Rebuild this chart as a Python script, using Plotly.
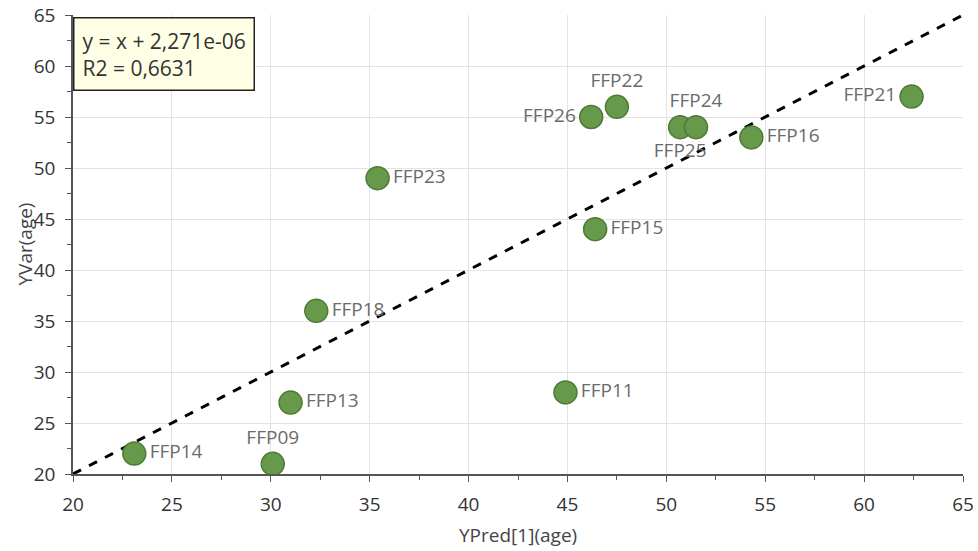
import plotly.graph_objects as go

names = ["FFP14", "FFP09", "FFP13", "FFP18", "FFP23", "FFP11", "FFP15",
         "FFP26", "FFP22", "FFP25", "FFP24", "FFP16", "FFP21"]
ypred = [23.1, 30.1, 31.0, 32.3, 35.4, 44.9, 46.4, 46.2, 47.5, 50.7, 51.5, 54.3, 62.4]
yvar = [22, 21, 27, 36, 49, 28, 44, 55, 56, 54, 54, 53, 57]
label_pos = ["middle right", "top center", "middle right", "middle right", "middle right",
             "middle right", "middle right", "middle left", "top center", "bottom center",
             "top center", "middle right", "middle left"]
fit_x = [20, 65]
fit_y = [20, 65]
x_ticks = [20, 25, 30, 35, 40, 45, 50, 55, 60, 65]
y_ticks = [20, 25, 30, 35, 40, 45, 50, 55, 60, 65]

font_family = "Open Sans, Noto Sans, sans-serif"

fig = go.Figure()
fig.add_trace(go.Scatter(
    x=fit_x, y=fit_y, mode="lines",
    line=dict(color="black", width=3, dash="dash"),
    hoverinfo="skip", showlegend=False, cliponaxis=False,
))
fig.add_trace(go.Scatter(
    x=ypred, y=yvar, mode="markers+text",
    text=names, textposition=label_pos,
    textfont=dict(size=19, color="#6b6b6b", family=font_family),
    marker=dict(size=23, color="#67994a", line=dict(color="#4d7a35", width=1.5)),
    showlegend=False, cliponaxis=False,
))

axis_common = dict(
    showgrid=True, gridcolor="#e3e3e3", gridwidth=1,
    showline=True, linecolor="#555555", linewidth=1.5,
    ticks="outside", ticklen=6, tickcolor="#555555",
    tickfont=dict(size=19, color="#333333", family=font_family),
    zeroline=False, automargin=False,
    minor=dict(ticks="outside", ticklen=4, tickcolor="#555555", dtick=2.5, showgrid=False),
)

fig.update_xaxes(range=[20, 65], tickvals=x_ticks, ticklabelstandoff=6, **axis_common)
fig.update_yaxes(range=[20, 65], tickvals=y_ticks, ticklabelstandoff=6, **axis_common)

fig.add_annotation(
    xref="paper", yref="paper", x=0.5, y=-0.133, xanchor="center", yanchor="middle",
    text="YPred[1](age)", showarrow=False,
    font=dict(size=19, color="#444444", family=font_family),
)
fig.add_annotation(
    xref="paper", yref="paper", x=-0.055, y=0.5, xanchor="center", yanchor="middle",
    text="YVar(age)", textangle=-90, showarrow=False,
    font=dict(size=19, color="#444444", family=font_family),
)
fig.add_annotation(
    xref="paper", yref="paper", x=0.0, y=0.996, xanchor="left", yanchor="top",
    text="y = x + 2,271e-06<br>R2 = 0,6631", align="left", showarrow=False,
    font=dict(size=21, color="#333333", family=font_family),
    bgcolor="#ffffe6", bordercolor="#222222", borderwidth=1.5, borderpad=8,
)

fig.update_layout(
    width=978, height=551,
    margin=dict(l=73, r=15, t=15, b=77),
    plot_bgcolor="white", paper_bgcolor="white",
    font=dict(family=font_family),
)

fig.write_html("out.html")
